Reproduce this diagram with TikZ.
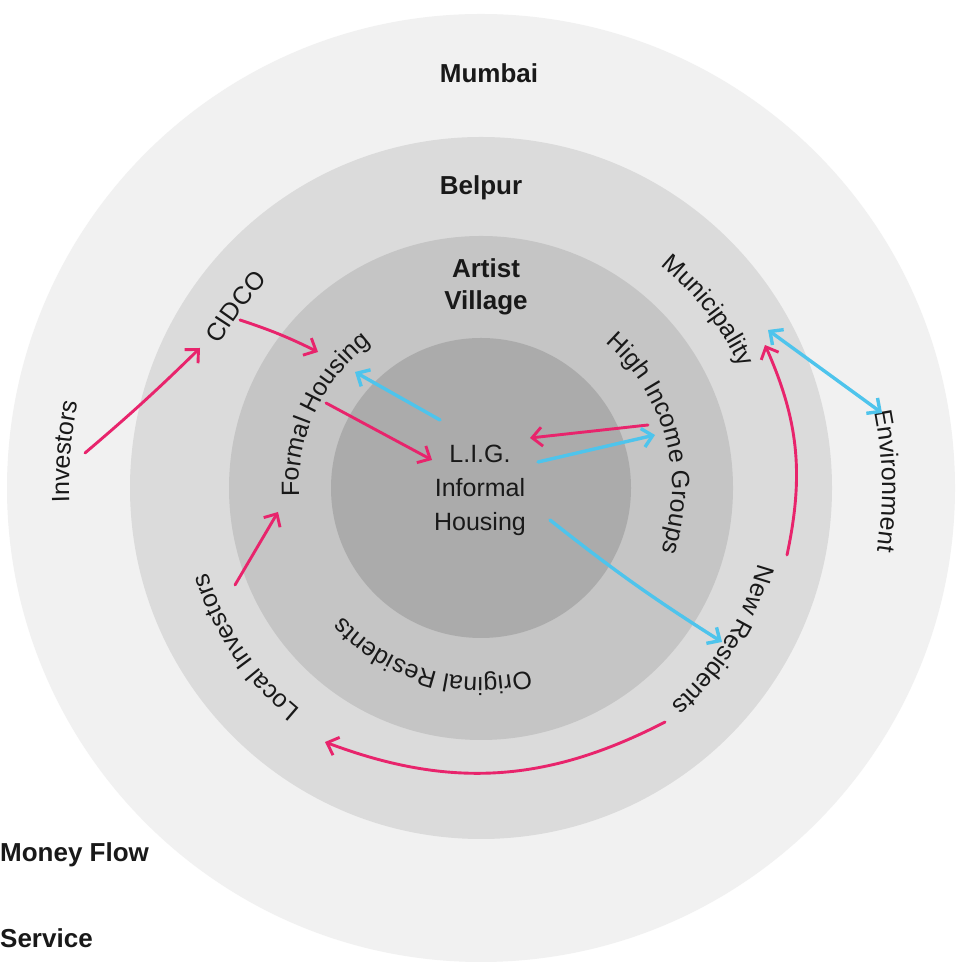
\documentclass[tikz,border=0pt]{standalone}
\usepackage{fontspec}
\setmainfont{Liberation Sans}
\usetikzlibrary{decorations.text,arrows.meta}
\newcommand\ringfont{\fontsize{25}{34}\selectfont}
\newcommand\headfont{\fontsize{26}{32}\selectfont\bfseries}
\definecolor{ringA}{RGB}{241,241,241}
\definecolor{ringB}{RGB}{219,219,219}
\definecolor{ringC}{RGB}{197,197,197}
\definecolor{ringD}{RGB}{171,171,171}
\definecolor{pinkc}{RGB}{232,36,108}
\definecolor{bluec}{RGB}{78,196,236}
\definecolor{inkc}{RGB}{25,25,25}
\begin{document}
\begin{tikzpicture}[x=1pt,y=1pt,
  money/.style={draw=pinkc, line width=2.9pt, line cap=round, -{Straight Barb[length=10pt,width=19pt]}},
  service/.style={draw=bluec, line width=3.4pt, line cap=round, -{Straight Barb[length=10pt,width=19pt]}},
  servicetwo/.style={draw=bluec, line width=3.4pt, line cap=round, {Straight Barb[length=10pt,width=19pt]}-{Straight Barb[length=10pt,width=19pt]}},
  headlabel/.style={font=\headfont, text=inkc, inner sep=0pt, align=center},
  plainlabel/.style={font=\ringfont, text=inkc, inner sep=0pt, align=center},
  ringtext/.style={decorate, decoration={text along path, text align=center, text color=inkc, text={|\ringfont|#1}}}
]
\useasboundingbox (0,0) rectangle (960,973);
\fill[white] (0,0) rectangle (960,973);
% rings
\coordinate (C) at (481,485);
\fill[ringA] (C) circle[radius=474];
\fill[ringB] (C) circle[radius=351];
\fill[ringC] (C) circle[radius=252];
\fill[ringD] (C) circle[radius=150];

% straight labels
\node[headlabel] (mumbai) at (489,900) {Mumbai};
\node[headlabel] (belpur) at (481,785) {Belpur};
\node[headlabel] (artist) at (486,686) {Artist\\Village};
\node[plainlabel] (lig) at (480,483) {L.I.G.\\Informal\\Housing};
\node[headlabel, anchor=west] (moneyflow) at (0,118) {Money Flow};
\node[headlabel, anchor=west] (service) at (0,35) {Service};

% curved labels (clockwise arcs, letter tops outward)
\path[ringtext={Formal Housing}] (C) ++(205:182) arc[start angle=205, end angle=105, radius=182];
\path[ringtext={High Income Groups}] (C) ++(75:191) arc[start angle=75, end angle=-45, radius=191];
\path[ringtext={Original Residents}] (C) ++(-50:189) arc[start angle=-50, end angle=-162, radius=189];
\path[ringtext={Municipality}] (C) ++(68:286) arc[start angle=68, end angle=8, radius=286];
\path[ringtext={CIDCO}] (C) ++(170:298) arc[start angle=170, end angle=117, radius=298];
\path[ringtext={New Residents}] (C) ++(5:288) arc[start angle=5, end angle=-69, radius=288];
\path[ringtext={Local Investors}] (C) ++(-106:286) arc[start angle=-106, end angle=-186, radius=286];
\path[ringtext={Environment}] (C) ++(25:401) arc[start angle=25, end angle=-23, radius=401];
\path[ringtext={Investors}] (C) ++(195:412) arc[start angle=195, end angle=155, radius=412];

% connector end points
\coordinate (inv-o) at (85,520);
\coordinate (cidco-i) at (200,625);
\coordinate (cidco-o) at (240,653);
\coordinate (fh-i1) at (318,621);
\coordinate (fh-o) at (326,570);
\coordinate (lig-i1) at (432,513);
\coordinate (hig-o) at (648,548);
\coordinate (lig-i2) at (530,535);
\coordinate (nr-o1) at (787,418);
\coordinate (mun-i) at (765,628);
\coordinate (nr-o2) at (665,251);
\coordinate (li-i) at (325,231);
\coordinate (li-o) at (235,388);
\coordinate (fh-i2) at (278,461);
\coordinate (lig-o1) at (440,553);
\coordinate (fh-i3) at (355,601);
\coordinate (lig-o2) at (538,511);
\coordinate (hig-i) at (655,538);
\coordinate (lig-o3) at (550,453);
\coordinate (nr-i) at (722,331);
\coordinate (mun-e) at (768,643);
\coordinate (env-e) at (882,560);

% money flow
\draw[money] (inv-o) to[bend right=2] (cidco-i);
\draw[money] (cidco-o) to[bend left=4] (fh-i1);
\draw[money] (fh-o) -- (lig-i1);
\draw[money] (hig-o) -- (lig-i2);
\draw[money] (nr-o1) to[bend right=18] (mun-i);
\draw[money] (nr-o2) to[bend left=24] (li-i);
\draw[money] (li-o) -- (fh-i2);

% service
\draw[service] (lig-o1) -- (fh-i3);
\draw[service] (lig-o2) -- (hig-i);
\draw[service] (lig-o3) to[bend right=3] (nr-i);
\draw[servicetwo] (mun-e) -- (env-e);
\end{tikzpicture}
\end{document}
